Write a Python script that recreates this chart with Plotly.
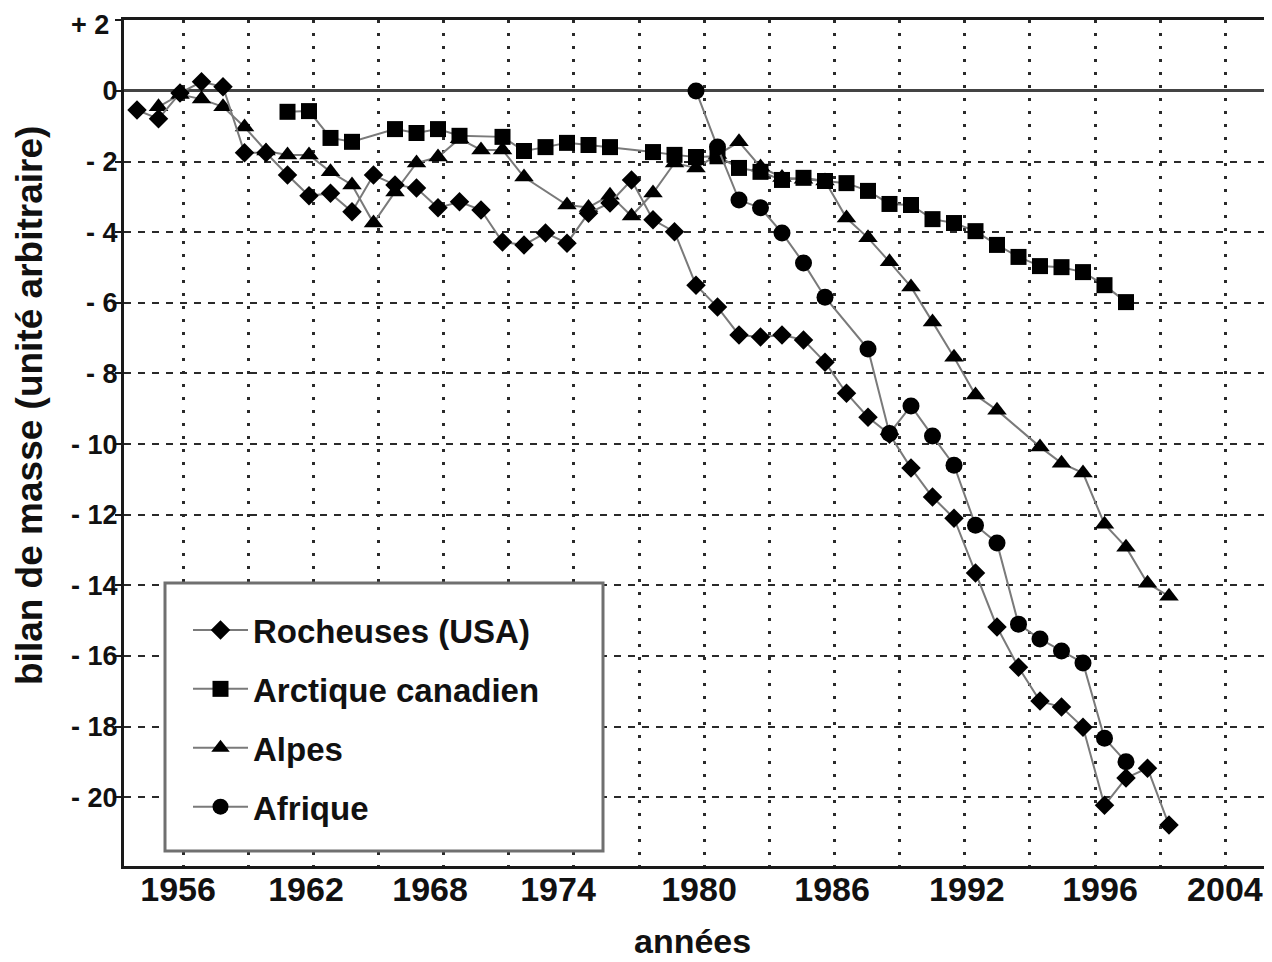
import plotly.graph_objects as go

# ---------------- data ----------------
rocheuses_years = list(range(1954, 2003))
rocheuses_vals = [
    -0.54, -0.79, -0.06, 0.26, 0.12, -1.75,           # 1954-1959
    -1.75, -2.38, -2.97, -2.90, -3.42, -2.38, -2.66, -2.75, -3.31, -3.14,  # 1960-1969
    -3.37, -4.28, -4.36, -4.02, -4.31, -3.46, -3.17, -2.52, -3.65, -3.99,  # 1970-1979
    -5.50, -6.12, -6.91, -6.97, -6.91, -7.05, -7.68, -8.56, -9.24, -9.72,  # 1980-1989
    -10.68, -11.50, -12.10, -13.65, -15.18, -16.32, -17.28, -17.45, -18.02, -20.23,  # 1990-1999
    -19.46, -19.18, -20.79,                            # 2000-2002
]

arctique_years = [1961, 1962, 1963, 1964, 1966, 1967, 1968, 1969, 1971, 1972,
                  1973, 1974, 1975, 1976, 1978, 1979, 1980, 1981, 1982, 1983,
                  1984, 1985, 1986, 1987, 1988, 1989, 1990, 1991, 1992, 1993,
                  1994, 1995, 1996, 1997, 1998, 1999, 2000]
arctique_vals = [-0.59, -0.57, -1.33, -1.44, -1.08, -1.19, -1.08, -1.27, -1.30, -1.70,
                 -1.59, -1.47, -1.53, -1.59, -1.73, -1.81, -1.87, -1.85, -2.18, -2.29,
                 -2.52, -2.46, -2.55, -2.61, -2.83, -3.20, -3.23, -3.63, -3.74, -3.97,
                 -4.36, -4.70, -4.96, -4.99, -5.13, -5.50, -5.98]

alpes_years = [1955, 1956, 1957, 1958, 1959, 1960, 1961, 1962, 1963, 1964,
               1965, 1966, 1967, 1968, 1969, 1970, 1971, 1972, 1974, 1975,
               1976, 1977, 1978, 1979, 1980, 1981, 1982, 1983, 1984, 1985,
               1986, 1987, 1988, 1989, 1990, 1991, 1992, 1993, 1994, 1996,
               1997, 1998, 1999, 2000, 2001, 2002]
alpes_vals = [-0.45, -0.10, -0.23, -0.45, -1.02, -1.70, -1.81, -1.81, -2.29, -2.66,
              -3.74, -2.86, -2.04, -1.87, -1.35, -1.67, -1.67, -2.44, -3.23, -3.30,
              -2.95, -3.54, -2.89, -2.04, -2.18, -1.80, -1.44, -2.15, -2.45, -2.50,
              -2.55, -3.60, -4.16, -4.84, -5.55, -6.54, -7.54, -8.61, -9.04, -10.08,
              -10.54, -10.82, -12.27, -12.92, -13.94, -14.31]

afrique_years = [1980, 1981, 1982, 1983, 1984, 1985, 1986, 1988, 1989, 1990,
                 1991, 1992, 1993, 1994, 1995, 1996, 1997, 1998, 1999, 2000]
afrique_vals = [0.0, -1.59, -3.09, -3.31, -4.02, -4.87, -5.84, -7.31, -9.70, -8.92,
                -9.77, -10.60, -12.30, -12.80, -15.10, -15.52, -15.86, -16.20, -18.33, -19.00]

x_tick_positions = [1955.91, 1961.86, 1967.63, 1973.58, 1980.14, 1986.33, 1992.60, 1998.79, 2004.60]
x_tick_labels = ["1956", "1962", "1968", "1974", "1980", "1986", "1992", "1996", "2004"]

y_tick_values = [2, 0, -2, -4, -6, -8, -10, -12, -14, -16, -18, -20]
y_tick_labels = ["+ 2", "0", "- 2", "- 4", "- 6", "- 8", "- 10", "- 12", "- 14", "- 16", "- 18", "- 20"]

# ---------------- style ----------------
FONT = "Liberation Sans, Arial, sans-serif"
LINE_COLOR = "#7a7a7a"
MARK_COLOR = "#000000"

series = [
    # (name, years, values, symbol, size, legend rank)
    ("Alpes", alpes_years, alpes_vals, "triangle-up", 17, 3),
    ("Arctique canadien", arctique_years, arctique_vals, "square", 16, 2),
    ("Rocheuses (USA)", rocheuses_years, rocheuses_vals, "diamond", 15, 1),
    ("Afrique", afrique_years, afrique_vals, "circle", 17, 4),
]

fig = go.Figure()
for name, xs, ys, sym, size, rank in series:
    fig.add_trace(go.Scatter(
        x=xs, y=ys, name=name, mode="lines+markers",
        line=dict(color=LINE_COLOR, width=2),
        marker=dict(symbol=sym, size=size, color=MARK_COLOR, line=dict(width=0)),
        legendrank=rank, legendgroup=name,
    ))

# page body has an 8px margin: the figure is shifted by it in the screenshot
SHIFT = 8
FIG_W, FIG_H = 1272 - SHIFT, 962 - SHIFT
PLOT_L, PLOT_R, PLOT_T, PLOT_B = 124, 1265, 20, 866   # plot area in screenshot pixels
L = PLOT_L - SHIFT
T = PLOT_T - SHIFT
R = FIG_W - (PLOT_R - SHIFT)
B = FIG_H - (PLOT_B - SHIFT)
W, H = PLOT_R - PLOT_L, PLOT_B - PLOT_T

def px_x(p):
    return (p - PLOT_L) / W

def px_y(p):
    return (PLOT_B - p) / H

TICK_FONT_Y = dict(family=FONT, size=27, color="#111", weight="bold")

fig.add_shape(type="rect", xref="paper", yref="paper",
              x0=px_x(165), x1=px_x(603), y0=px_y(851), y1=px_y(583),
              line=dict(color="#707070", width=3), fillcolor="white", layer="above")

fig.add_annotation(text="bilan de masse (unité arbitraire)", textangle=-90,
                   xref="paper", yref="paper", x=px_x(29), y=px_y(406),
                   xanchor="center", yanchor="middle", showarrow=False,
                   font=dict(family=FONT, size=37, color="#111", weight="bold"))

fig.add_annotation(text="années", xref="paper", yref="paper",
                   x=px_x(692), y=px_y(941), xanchor="center", yanchor="middle",
                   showarrow=False,
                   font=dict(family=FONT, size=34, color="#111", weight="bold"))

# top tick label sits against the top edge: drawn as an annotation kept inside the page
fig.add_annotation(text=y_tick_labels[0], xref="paper", yref="paper",
                   x=px_x(110), y=px_y(9), xanchor="right", yanchor="top",
                   showarrow=False, borderpad=0, font=TICK_FONT_Y)

fig.update_layout(
    width=FIG_W, height=FIG_H,
    margin=dict(l=L, r=R, t=T, b=B, autoexpand=False),
    paper_bgcolor="white", plot_bgcolor="white",
    showlegend=True,
    legend=dict(x=px_x(188), y=px_y(602), xanchor="left", yanchor="top",
                bgcolor="rgba(0,0,0,0)", borderwidth=0, itemwidth=55,
                tracegroupgap=13, traceorder="grouped",
                font=dict(family=FONT, size=33, color="#111", weight="bold")),
    xaxis=dict(
        range=[1953.395, 2006.465], automargin=False,
        tickmode="array", tickvals=x_tick_positions, ticktext=x_tick_labels,
        showgrid=False, ticks="", ticklabelstandoff=-9,
        ticklabeloverflow="allow",
        tickfont=dict(family=FONT, size=34, color="#111", weight="bold"),
        showline=True, linecolor="#1a1a1a", linewidth=3, mirror=True,
        zeroline=False,
        minor=dict(tick0=1956.14, dtick=3.03, showgrid=True,
                   gridcolor="#2a2a2a", gridwidth=2.5, griddash="3px,10px", ticks=""),
    ),
    yaxis=dict(
        range=[-21.95, 2.01], automargin=False,
        tickmode="array", tickvals=y_tick_values,
        ticktext=[""] + y_tick_labels[1:],
        showgrid=True, gridcolor="#2a2a2a", gridwidth=2, griddash="7px,7px",
        ticks="outside", ticklen=6, tickwidth=2, tickcolor="#1a1a1a",
        ticklabelstandoff=-8, ticklabeloverflow="allow",
        tickfont=TICK_FONT_Y,
        showline=True, linecolor="#1a1a1a", linewidth=3, mirror=True,
        zeroline=True, zerolinecolor="#444", zerolinewidth=3,
    ),
)

fig.write_html("out.html")
